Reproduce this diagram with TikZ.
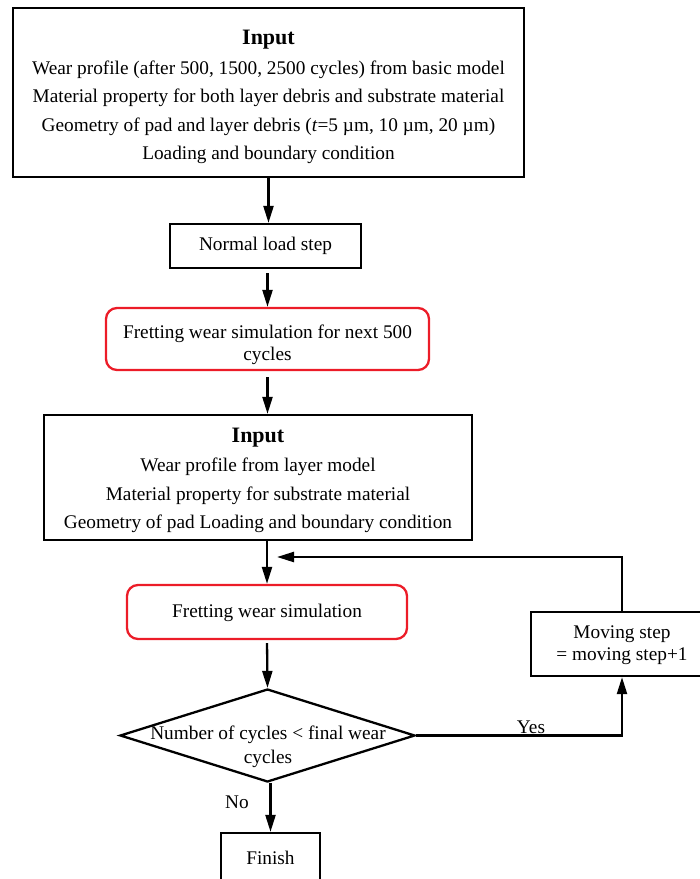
\documentclass[tikz,border=0pt]{standalone}
\usepackage{fontspec}
\setmainfont{Liberation Serif}
\usetikzlibrary{arrows.meta,shapes.geometric}
\definecolor{boxred}{RGB}{236,28,40}
\begin{document}
\begin{tikzpicture}[x=1pt,y=-1pt,
  line width=2.3pt,
  body/.style={font=\fontsize{19.3}{28.5}\selectfont, align=center, inner sep=0pt},
  blackbox/.style={body, draw=black, rectangle, line width=2.3pt},
  redbox/.style={body, draw=boxred, rectangle, rounded corners=11pt, line width=2.3pt, font=\fontsize{19.3}{22}\selectfont},
  arr/.style={-{Triangle[length=17pt,width=10pt]}, line width=2.3pt}
]
\useasboundingbox (0,0) rectangle (700,879);

\node[blackbox, minimum width=511pt, minimum height=169pt] (in1) at (268.5,92.5)
  {\rule{0pt}{24pt}{\fontsize{22}{28}\selectfont\bfseries Input}\\[1pt]
   Wear profile (after 500, 1500, 2500 cycles) from basic model\\
   Material property for both layer debris and substrate material\\
   Geometry of pad and layer debris (\textit{t}=5 µm, 10 µm, 20 µm)\\
   Loading and boundary condition};

\node[blackbox, minimum width=191pt, minimum height=44pt] (nls) at (265.5,246) {Normal load step};

\node[redbox, minimum width=323pt, minimum height=62pt] (rb1) at (267.5,339)
  {\rule{0pt}{26pt}Fretting wear simulation for next 500\\cycles};

\node[blackbox, minimum width=428pt, minimum height=125pt] (in2) at (258,477.5)
  {\rule{0pt}{20pt}{\fontsize{22}{28}\selectfont\bfseries Input}\\[1pt]
   Wear profile from layer model\\
   Material property for substrate material\\
   Geometry of pad Loading and boundary condition};

\node[redbox, minimum width=280pt, minimum height=54pt] (rb2) at (267,612) {\rule{0pt}{16pt}Fretting wear simulation};

\node[diamond, draw=black, line width=2.3pt, minimum width=295pt, minimum height=93pt, inner sep=0pt] (dec) at (267.5,735.5) {};
\node[body, font=\fontsize{19.3}{24}\selectfont] (dectext) at (268,747) {Number of cycles < final wear\\cycles};

\node[blackbox, minimum width=182pt, minimum height=64pt, font=\fontsize{19.3}{22}\selectfont] (ms) at (622,644)
  {\rule{0pt}{16pt}Moving step\\= moving step+1};

\node[blackbox, minimum width=99pt, minimum height=50pt] (fin) at (270.5,858) {Finish};

\coordinate (fb) at (277,557);

\draw[arr] (in1.south) -- (in1.south |- nls.north);
\draw[arr, shorten <=4pt] (rb1.north |- nls.south) -- (rb1.north);
\draw[arr, shorten <=6pt] (rb1.south) -- (rb1.south |- in2.north);
\draw[arr] (rb2.north |- in2.south) -- (rb2.north);
\draw[arr, shorten <=3pt] (rb2.south) -- (dec.north);
\draw[arr] (fin.north |- dec.south) -- (fin.north);
\draw[arr] (dec.east) -| (ms.south);
\draw[arr] (ms.north) |- (fb);

\node[body] (yes) at (531,727) {Yes};
\node[body] (no) at (237,802) {No};
\end{tikzpicture}
\end{document}
